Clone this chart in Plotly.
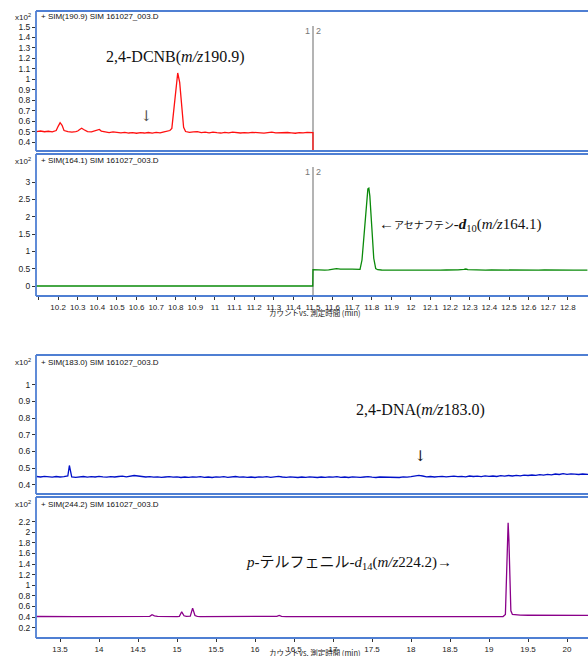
import plotly.graph_objects as go

# ---------------- data (intensity in units of x10^2 counts) ----------------
# SIM(190.9)  2,4-DCNB  (panel 1)
dcnb_t = [10.09, 10.11, 10.13, 10.15, 10.17, 10.19, 10.20, 10.21, 10.22, 10.23,
          10.25, 10.27, 10.29, 10.30, 10.31, 10.32, 10.33, 10.35, 10.37, 10.39,
          10.40, 10.41, 10.42, 10.44, 10.46, 10.48, 10.50, 10.52, 10.54, 10.56,
          10.58, 10.60, 10.62, 10.64, 10.66, 10.68, 10.70, 10.72, 10.74, 10.76,
          10.77, 10.78, 10.79, 10.80, 10.81, 10.82, 10.83, 10.84, 10.85, 10.87,
          10.89, 10.91, 10.93, 10.95, 10.97, 10.99, 11.01, 11.03, 11.05, 11.07,
          11.09, 11.11, 11.13, 11.15, 11.17, 11.19, 11.21, 11.23, 11.25, 11.27,
          11.29, 11.31, 11.33, 11.35, 11.37, 11.39, 11.41, 11.43, 11.45, 11.47,
          11.49, 11.50, 11.50]
dcnb_y = [0.500, 0.505, 0.498, 0.503, 0.497, 0.510, 0.550, 0.585, 0.560, 0.510,
          0.500, 0.495, 0.500, 0.505, 0.520, 0.532, 0.520, 0.500, 0.497, 0.505,
          0.515, 0.520, 0.505, 0.495, 0.490, 0.497, 0.490, 0.487, 0.492, 0.486,
          0.490, 0.484, 0.490, 0.486, 0.491, 0.485, 0.492, 0.488, 0.497, 0.503,
          0.510, 0.530, 0.700, 0.930, 1.060, 0.970, 0.740, 0.540, 0.500, 0.492,
          0.497, 0.500, 0.490, 0.494, 0.488, 0.495, 0.490, 0.486, 0.492, 0.488,
          0.495, 0.490, 0.486, 0.490, 0.487, 0.493, 0.488, 0.490, 0.485, 0.490,
          0.494, 0.488, 0.490, 0.486, 0.491, 0.488, 0.484, 0.490, 0.487, 0.492,
          0.488, 0.490, 0.300]

# SIM(164.1)  Acenaphthene-d10  (panel 2)
acen_t = [10.087, 10.50, 11.00, 11.499, 11.50, 11.52, 11.54, 11.56, 11.58, 11.60,
          11.62, 11.64, 11.66, 11.68, 11.70, 11.72, 11.74, 11.75, 11.76, 11.77,
          11.78, 11.785, 11.79, 11.80, 11.81, 11.82, 11.83, 11.85, 11.88, 11.91,
          11.94, 11.97, 12.00, 12.03, 12.06, 12.09, 12.12, 12.15, 12.18, 12.21,
          12.24, 12.27, 12.28, 12.29, 12.32, 12.35, 12.38, 12.41, 12.44, 12.47,
          12.50, 12.53, 12.56, 12.59, 12.62, 12.65, 12.68, 12.71, 12.74, 12.77,
          12.80, 12.83, 12.86, 12.90]
acen_y = [0.0, 0.0, 0.0, 0.0, 0.470, 0.462, 0.466, 0.460, 0.468, 0.480,
          0.500, 0.490, 0.480, 0.490, 0.485, 0.475, 0.480, 0.750, 1.500, 2.300,
          2.800, 2.820, 2.600, 1.700, 0.800, 0.500, 0.470, 0.462, 0.460, 0.463,
          0.460, 0.462, 0.458, 0.461, 0.460, 0.463, 0.459, 0.460, 0.462, 0.460,
          0.465, 0.480, 0.490, 0.470, 0.461, 0.458, 0.460, 0.462, 0.459, 0.460,
          0.462, 0.458, 0.460, 0.461, 0.459, 0.460, 0.462, 0.458, 0.460, 0.461,
          0.459, 0.460, 0.460, 0.460]

# SIM(183.0)  2,4-DNA  (panel 3)
dna_t = [13.20, 13.25, 13.30, 13.35, 13.40, 13.45, 13.50, 13.55, 13.60, 13.62, 13.64,
         13.65, 13.70, 13.75, 13.80, 13.85, 13.90, 13.95, 14.00, 14.05, 14.10,
         14.15, 14.20, 14.25, 14.30, 14.35, 14.40, 14.45, 14.50, 14.55, 14.60,
         14.65, 14.70, 14.75, 14.80, 14.85, 14.90, 14.95, 15.00, 15.05, 15.10,
         15.15, 15.20, 15.25, 15.30, 15.35, 15.40, 15.45, 15.50, 15.55, 15.60,
         15.65, 15.70, 15.75, 15.80, 15.85, 15.90, 15.95, 16.00, 16.05, 16.10,
         16.15, 16.20, 16.25, 16.30, 16.35, 16.40, 16.45, 16.50, 16.55, 16.60,
         16.65, 16.70, 16.75, 16.80, 16.85, 16.90, 16.95, 17.00, 17.05, 17.10,
         17.15, 17.20, 17.25, 17.30, 17.35, 17.40, 17.45, 17.50, 17.55, 17.60,
         17.65, 17.70, 17.75, 17.80, 17.85, 17.90, 17.95, 18.00, 18.05, 18.10,
         18.15, 18.20, 18.25, 18.30, 18.35, 18.40, 18.45, 18.50, 18.55, 18.60,
         18.65, 18.70, 18.75, 18.80, 18.85, 18.90, 18.95, 19.00, 19.05, 19.10,
         19.15, 19.20, 19.25, 19.30, 19.35, 19.40, 19.45, 19.50, 19.55, 19.60,
         19.65, 19.70, 19.75, 19.80, 19.85, 19.90, 19.95, 20.00, 20.05, 20.10,
         20.15, 20.20, 20.27]
dna_y = [0.449, 0.446, 0.450, 0.447, 0.445, 0.449, 0.446, 0.448, 0.452, 0.515, 0.455,
         0.446, 0.444, 0.447, 0.449, 0.445, 0.448, 0.446, 0.450, 0.447, 0.445,
         0.448, 0.446, 0.449, 0.451, 0.447, 0.450, 0.455, 0.452, 0.449, 0.446,
         0.448, 0.445, 0.447, 0.444, 0.446, 0.448, 0.445, 0.447, 0.443, 0.446,
         0.444, 0.447, 0.445, 0.448, 0.444, 0.446, 0.443, 0.447, 0.445, 0.448,
         0.444, 0.446, 0.449, 0.445, 0.447, 0.444, 0.446, 0.443, 0.447, 0.445,
         0.448, 0.444, 0.446, 0.450, 0.446, 0.444, 0.447, 0.445, 0.443, 0.446,
         0.444, 0.447, 0.445, 0.443, 0.446, 0.444, 0.447, 0.445, 0.448, 0.444,
         0.446, 0.443, 0.447, 0.445, 0.444, 0.446, 0.448, 0.445, 0.443, 0.446,
         0.445, 0.447, 0.444, 0.446, 0.443, 0.447, 0.445, 0.448, 0.450, 0.456,
         0.452, 0.447, 0.449, 0.446, 0.448, 0.450, 0.447, 0.449, 0.451, 0.448,
         0.450, 0.447, 0.452, 0.449, 0.451, 0.448, 0.453, 0.450, 0.452, 0.449,
         0.454, 0.451, 0.455, 0.452, 0.456, 0.453, 0.457, 0.455, 0.458, 0.456,
         0.460, 0.457, 0.462, 0.459, 0.464, 0.461, 0.466, 0.462, 0.465, 0.463,
         0.461, 0.464, 0.462]

# SIM(244.2)  p-Terphenyl-d14  (panel 4)
pter_t = [13.20, 13.30, 13.40, 13.50, 13.60, 13.70, 13.80, 13.90, 14.00, 14.10,
          14.20, 14.30, 14.40, 14.50, 14.60, 14.65, 14.68, 14.71, 14.75, 14.80,
          14.90, 15.00, 15.03, 15.06, 15.09, 15.12, 15.17, 15.20, 15.23, 15.26,
          15.30, 15.40, 15.50, 15.60, 15.70, 15.80, 15.90, 16.00, 16.10, 16.20,
          16.28, 16.31, 16.34, 16.40, 16.50, 16.60, 16.70, 16.80, 16.90, 17.00,
          17.10, 17.20, 17.30, 17.40, 17.50, 17.60, 17.70, 17.80, 17.90, 18.00,
          18.10, 18.20, 18.30, 18.40, 18.50, 18.60, 18.70, 18.80, 18.90, 19.00,
          19.10, 19.18, 19.21, 19.225, 19.235, 19.245, 19.255, 19.265, 19.28, 19.30,
          19.35, 19.40, 19.50, 19.58, 19.62, 19.66, 19.70, 19.80, 19.90, 20.00,
          20.10, 20.20, 20.27]
pter_y = [0.412, 0.409, 0.411, 0.410, 0.412, 0.409, 0.411, 0.410, 0.412, 0.409,
          0.411, 0.410, 0.412, 0.410, 0.411, 0.415, 0.445, 0.425, 0.415, 0.412,
          0.410, 0.411, 0.415, 0.500, 0.425, 0.413, 0.418, 0.570, 0.430, 0.414,
          0.411, 0.410, 0.412, 0.409, 0.411, 0.410, 0.409, 0.411, 0.410, 0.411,
          0.413, 0.432, 0.414, 0.410, 0.409, 0.411, 0.409, 0.410, 0.411, 0.409,
          0.410, 0.411, 0.409, 0.410, 0.411, 0.409, 0.410, 0.411, 0.409, 0.410,
          0.411, 0.409, 0.410, 0.411, 0.409, 0.410, 0.411, 0.409, 0.410, 0.411,
          0.410, 0.412, 0.450, 1.200, 2.000, 2.180, 1.850, 1.000, 0.520, 0.450,
          0.438, 0.436, 0.435, 0.435, 0.442, 0.435, 0.434, 0.433, 0.434, 0.433,
          0.433, 0.432, 0.433]

# tick values / labels
top_x_ticks = [10.1, 10.2, 10.3, 10.4, 10.5, 10.6, 10.7, 10.8, 10.9, 11.0,
               11.1, 11.2, 11.3, 11.4, 11.5, 11.6, 11.7, 11.8, 11.9, 12.0,
               12.1, 12.2, 12.3, 12.4, 12.5, 12.6, 12.7, 12.8]
top_x_labels = ["", "10.2", "10.3", "10.4", "10.5", "10.6", "10.7", "10.8", "10.9", "11",
                "11.1", "11.2", "11.3", "11.4", "11.5", "11.6", "11.7", "11.8", "11.9", "12",
                "12.1", "12.2", "12.3", "12.4", "12.5", "12.6", "12.7", "12.8"]
bot_x_ticks = [13.5, 14.0, 14.5, 15.0, 15.5, 16.0, 16.5, 17.0, 17.5, 18.0,
               18.5, 19.0, 19.5, 20.0]
bot_x_labels = ["13.5", "14", "14.5", "15", "15.5", "16", "16.5", "17", "17.5", "18",
                "18.5", "19", "19.5", "20"]
y1_ticks = [0.4, 0.5, 0.6, 0.7, 0.8, 0.9, 1.0, 1.1, 1.2, 1.3, 1.4, 1.5]
y1_labels = ["0.4", "0.5", "0.6", "0.7", "0.8", "0.9", "1", "1.1", "1.2", "1.3", "1.4", "1.5"]
y2_ticks = [0, 0.5, 1, 1.5, 2, 2.5, 3]
y2_labels = ["0", "0.5", "1", "1.5", "2", "2.5", "3"]
y3_ticks = [0.4, 0.5, 0.6, 0.7, 0.8, 0.9, 1.0]
y3_labels = ["0.4", "0.5", "0.6", "0.7", "0.8", "0.9", "1"]
y4_ticks = [0.2, 0.4, 0.6, 0.8, 1.0, 1.2, 1.4, 1.6, 1.8, 2.0, 2.2]
y4_labels = ["0.2", "0.4", "0.6", "0.8", "1", "1.2", "1.4", "1.6", "1.8", "2", "2.2"]

headers = ["+ SIM(190.9) SIM 161027_003.D", "+ SIM(164.1) SIM 161027_003.D",
           "+ SIM(183.0) SIM 161027_003.D", "+ SIM(244.2) SIM 161027_003.D"]
x_title = "カウントvs. 測定時間 (min)"

# ---------------- layout geometry (pixels) ----------------
W, H = 588, 656
def PX(x):
    return x / W
def PY(y):
    return 1 - y / H

LEFT = 36
panels = [(11, 151), (154, 296), (355, 494), (497, 638)]
top_range = [10.087, 12.903]
bot_range = [13.192, 20.269]
y_ranges = [[0.314, 1.653], [-0.288, 3.808], [0.344, 1.178], [0.006, 2.666]]

TICKFONT = dict(family="Liberation Sans Narrow, Liberation Sans, Arial", size=8, color="#222")
BORDER = "#4f7fd3"

fig = go.Figure()
series = [(dcnb_t, dcnb_y, "#ff1010"), (acen_t, acen_y, "#0a8a0a"),
          (dna_t, dna_y, "#0010c8"), (pter_t, pter_y, "#8a008a")]
for i, (t, v, c) in enumerate(series):
    sfx = "" if i == 0 else str(i + 1)
    fig.add_trace(go.Scatter(x=t, y=v, mode="lines", xaxis="x" + sfx, yaxis="y" + sfx,
                             line=dict(color=c, width=1.3), showlegend=False,
                             hoverinfo="skip"))

layout = dict(width=W, height=H, margin=dict(l=0, r=0, t=0, b=0),
              paper_bgcolor="white", plot_bgcolor="rgba(0,0,0,0)",
              font=dict(family="Liberation Sans, Noto Sans CJK JP", size=8, color="#222"),
              showlegend=False)

yticks = [(y1_ticks, y1_labels), (y2_ticks, y2_labels), (y3_ticks, y3_labels), (y4_ticks, y4_labels)]
for i, (top, bot) in enumerate(panels):
    sfx = "" if i == 0 else str(i + 1)
    xr = top_range if i < 2 else bot_range
    show_x = i in (1, 3)
    xa = dict(domain=[PX(LEFT), 1.0], range=xr, anchor="y" + sfx, showgrid=False,
              zeroline=False, showline=False, fixedrange=True)
    if show_x:
        tv, tt = (top_x_ticks, top_x_labels) if i == 1 else (bot_x_ticks, bot_x_labels)
        xa.update(tickmode="array", tickvals=tv, ticktext=tt, ticks="outside",
                  ticklen=3, tickwidth=1, tickcolor="#333", tickfont=TICKFONT,
                  ticklabelstandoff=0)
    else:
        xa.update(showticklabels=False, ticks="")
    layout["xaxis" + sfx] = xa
    tv, tt = yticks[i]
    layout["yaxis" + sfx] = dict(domain=[PY(bot), PY(top)], range=y_ranges[i],
                                 anchor="x" + sfx, showgrid=False, zeroline=False,
                                 showline=False, tickmode="array", tickvals=tv,
                                 ticktext=tt, ticks="outside", ticklen=3,
                                 tickcolor="#333",
                                 tickfont=dict(TICKFONT, size=8.5), fixedrange=True)

shapes = []
# marker lines at 11.5 min (segment boundary "1|2")
shapes.append(dict(type="line", xref="x", yref="paper", x0=11.5, x1=11.5,
                   y0=PY(151), y1=PY(26), line=dict(color="#b4b4b4", width=2), layer="below"))
shapes.append(dict(type="line", xref="x2", yref="paper", x0=11.5, x1=11.5,
                   y0=PY(296), y1=PY(167), line=dict(color="#b4b4b4", width=2), layer="below"))
# panel borders (left, top, bottom; the right side runs off the picture)
for (top, bot) in panels:
    for (xa0, ya0, xa1, ya1) in ((LEFT, top, LEFT, bot), (LEFT, top, W, top), (LEFT, bot, W, bot)):
        shapes.append(dict(type="line", xref="paper", yref="paper", x0=PX(xa0), x1=PX(xa1),
                           y0=PY(ya0), y1=PY(ya1), line=dict(color=BORDER, width=1.8),
                           layer="above"))
layout["shapes"] = shapes

ann = []
hdr_y = [17, 161, 362, 504]
for h, y in zip(headers, hdr_y):
    ann.append(dict(text=h, x=PX(LEFT + 3), y=PY(y), xref="paper", yref="paper",
                    xanchor="left", yanchor="middle", showarrow=False,
                    font=dict(family="Liberation Sans Narrow, Liberation Sans", size=8, color="#111")))
    ann.append(dict(text="x10<sup>2</sup>", x=PX(33), y=PY(y), xref="paper", yref="paper",
                    xanchor="right", yanchor="middle", showarrow=False,
                    font=dict(family="Liberation Sans Narrow, Liberation Sans", size=8, color="#222")))
# "1|2" segment marks
for xr_, y in (("x", 31), ("x2", 172)):
    ann.append(dict(text="1", x=11.5, y=PY(y), xref=xr_, yref="paper", xanchor="right",
                    yanchor="middle", xshift=-1, showarrow=False,
                    font=dict(family="Liberation Sans", size=9, color="#777")))
    ann.append(dict(text="2", x=11.5, y=PY(y), xref=xr_, yref="paper", xanchor="left",
                    yanchor="middle", xshift=1, showarrow=False,
                    font=dict(family="Liberation Sans", size=9, color="#777")))
# axis titles
for y in (313, 652):
    ann.append(dict(text=x_title, x=PX(315), y=PY(y), xref="paper", yref="paper",
                    xanchor="center", yanchor="middle", showarrow=False,
                    font=dict(family="Noto Sans CJK JP", size=7.5, color="#222")))
SERIF = "Liberation Serif, Noto Sans CJK JP"
ann.append(dict(text="2,4-DCNB(<i>m/z</i>190.9)", x=PX(175), y=PY(57), xref="paper",
                yref="paper", xanchor="center", yanchor="middle", showarrow=False,
                font=dict(family=SERIF, size=16, color="#111")))
ann.append(dict(text="←<span style='font-size:10px'>アセナフテン</span>-<b><i>d</i></b><sub>10</sub>(<i>m/z</i>164.1)",
                x=PX(377), y=PY(225), xref="paper", yref="paper", xanchor="left",
                yanchor="middle", showarrow=False, font=dict(family=SERIF, size=15, color="#111")))
ann.append(dict(text="2,4-DNA(<i>m/z</i>183.0)", x=PX(420), y=PY(410), xref="paper",
                yref="paper", xanchor="center", yanchor="middle", showarrow=False,
                font=dict(family=SERIF, size=16, color="#111")))
ann.append(dict(text="<i>p</i>-テルフェニル-<i>d</i><sub>14</sub>(<i>m/z</i>224.2)→",
                x=PX(244), y=PY(563), xref="paper", yref="paper", xanchor="left",
                yanchor="middle", showarrow=False, font=dict(family=SERIF, size=15, color="#111")))
# down arrows marking the expected peak positions
ann.append(dict(text="↓", x=10.65, y=PY(116), xref="x", yref="paper", xanchor="center",
                yanchor="middle", showarrow=False,
                font=dict(family="DejaVu Serif", size=15, color="#555")))
ann.append(dict(text="↓", x=18.12, y=PY(456), xref="x3", yref="paper", xanchor="center",
                yanchor="middle", showarrow=False,
                font=dict(family="DejaVu Serif", size=15, color="#222")))
layout["annotations"] = ann

fig.update_layout(**layout)
fig.write_html("out.html")
